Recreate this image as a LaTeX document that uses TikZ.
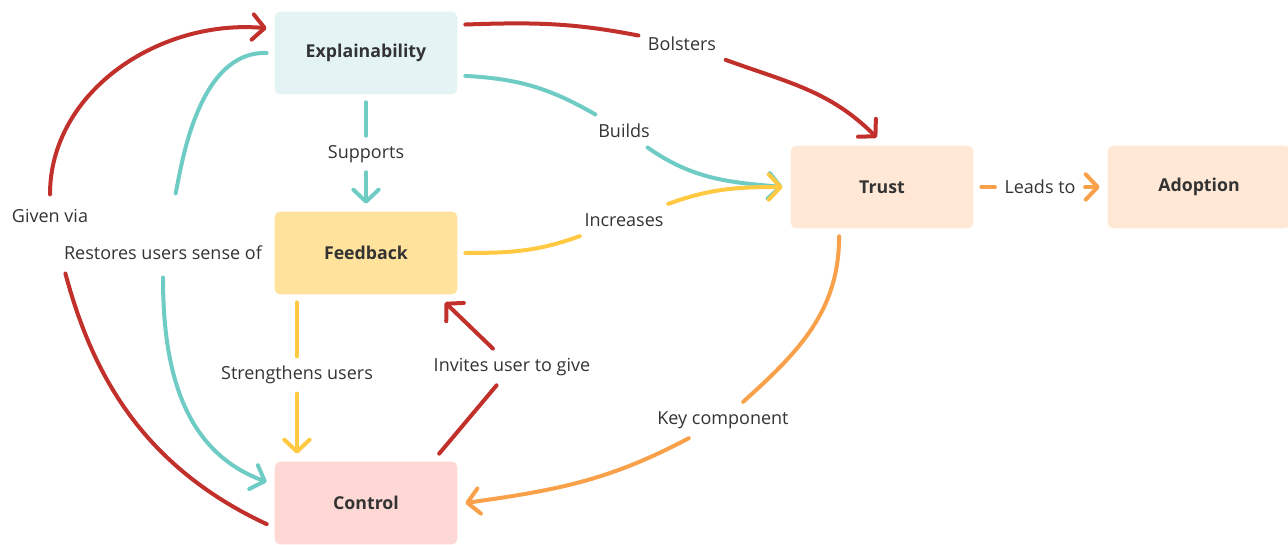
\documentclass[tikz,border=0pt]{standalone}
\usepackage{fontspec}
\setmainfont{Open Sans}
\usetikzlibrary{arrows.meta}
\definecolor{explfill}{HTML}{E4F4F4}
\definecolor{feedfill}{HTML}{FFE29C}
\definecolor{ctrlfill}{HTML}{FDD8D5}
\definecolor{trustfill}{HTML}{FFE8D6}
\definecolor{redink}{HTML}{C1302B}
\definecolor{tealink}{HTML}{6ECCC5}
\definecolor{yellowink}{HTML}{FFC941}
\definecolor{orangeink}{HTML}{F9A14A}
\definecolor{textink}{HTML}{333333}

\begin{document}
\begin{tikzpicture}[x=0.75pt,y=0.75pt,
	block/.style={rounded corners=4pt,minimum width=137pt,minimum height=62pt,outer sep=6pt,text=textink,font=\bfseries\fontsize{13.3}{15}\selectfont},
	edgelabel/.style={inner sep=7pt,text=textink,font=\fontsize{13.5}{16}\selectfont},
	link/.style={line width=3pt,line cap=round},
	>={Straight Barb[length=9pt,width=19pt,round]}]
	\useasboundingbox (0,0) rectangle (1288,544);
	\node[block,fill=explfill] (expl) at (366,491) {Explainability};
	\node[block,fill=feedfill] (fb) at (366,291) {Feedback};
	\node[block,fill=ctrlfill] (ctrl) at (366,41) {Control};
	\node[block,fill=trustfill] (trust) at (882,357) {Trust};
	\node[block,fill=trustfill] (adopt) at (1199,357) {Adoption};
	\node[edgelabel] (bolsters) at (682,500) {Bolsters};
	\node[edgelabel] (builds) at (624,413) {Builds};
	\node[edgelabel] (supports) at (366,390) {Supports};
	\node[edgelabel] (increases) at (624,324) {Increases};
	\node[edgelabel] (leads) at (1040,357) {Leads to};
	\node[edgelabel] (givenvia) at (50,328) {Given via};
	\node[edgelabel] (restores) at (163,291) {Restores users sense of};
	\node[edgelabel] (strength) at (297,169) {Strengthens users};
	\node[edgelabel] (invites) at (512,177) {Invites user to give};
	\node[edgelabel] (keycomp) at (723,124) {Key component};
	\draw[link,redink] (expl.16) to[out=2,in=169] (bolsters);
	\draw[link,redink,->] (bolsters) to[out=-20,in=135] (trust.96);
	\draw[link,tealink] (expl.-13) to[out=-3,in=150] (builds);
	\draw[link,tealink,->] (builds) to[out=-35,in=175] (trust.west);
	\draw[link,yellowink] (fb.east) to[out=0,in=200] (increases);
	\draw[link,yellowink,->] (increases) to[out=20,in=180] (trust.west);
	\draw[link,tealink] (expl) -- (supports);
	\draw[link,tealink,->] (supports) -- (fb);
	\draw[link,orangeink] (trust) -- (leads);
	\draw[link,orangeink,->] (leads) -- (adopt);
	\draw[link,yellowink] (strength |- fb.south) -- (strength);
	\draw[link,yellowink,->] (strength) -- (strength |- ctrl.north);
	\draw[link,redink] (ctrl.34) -- (invites);
	\draw[link,redink,->] (invites) -- (fb.-32);
	\draw[link,orangeink] (trust.-131) to[out=-90,in=42] (keycomp);
	\draw[link,orangeink,->] (keycomp) to[out=208,in=8] (ctrl.east);
	\draw[link,redink,shorten >=32pt] (ctrl.192) to[out=155,in=-75] (givenvia);
	\draw[link,redink,->,shorten <=4pt] (givenvia) to[out=90,in=175] (expl.166);
	\draw[link,tealink,shorten <=33pt] (restores) to[out=78,in=178,looseness=0.85] (expl.west);
	\draw[link,tealink,->,shorten <=6pt] (restores) to[out=-90,in=160] (ctrl.168);
\end{tikzpicture}
\end{document}
